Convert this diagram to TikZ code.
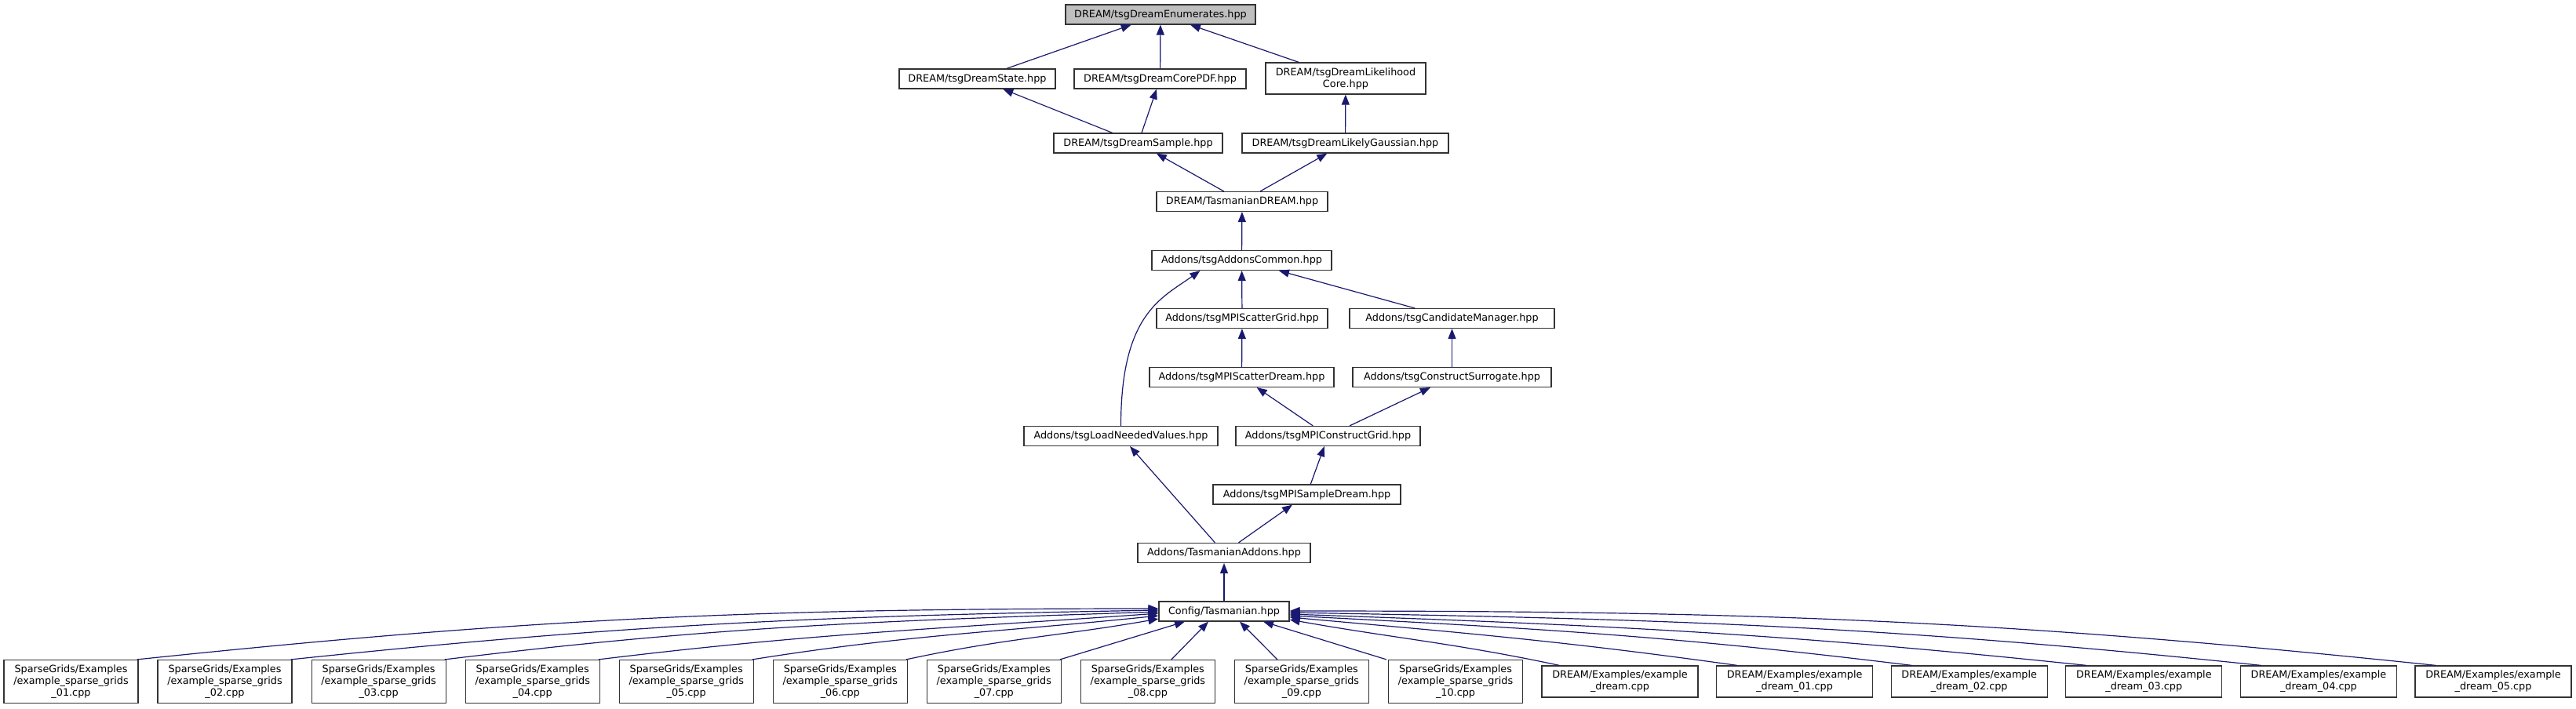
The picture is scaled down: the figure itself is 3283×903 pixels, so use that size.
\documentclass[tikz,border=0pt]{standalone}
\usepackage{fontspec}
\setmainfont{DejaVu Sans}
\usetikzlibrary{arrows.meta}
\definecolor{edgeblue}{RGB}{25,25,112}

\begin{document}
\begin{tikzpicture}[
    x=1pt, y=1pt,
    box/.style={draw=black!80, line width=1.2pt, fill=white, align=center, inner sep=0pt, minimum height=25pt, font=\fontsize{12.8}{15}\selectfont},
    sgbox/.style={box, minimum width=171pt, minimum height=55pt},
    drbox/.style={box, minimum width=199pt, minimum height=40pt},
    arrow/.style={-{Triangle[length=13pt,width=10pt]}, edgeblue, line width=1.2pt}
]
\useasboundingbox (0,0) rectangle (3283,-903);

\node[box, fill=black!25, minimum width=242pt] at (1479,-18.5) (enums) {DREAM/tsgDreamEnumerates.hpp};
\node[box, minimum width=199pt] at (1245.5,-100.5) (dstate) {DREAM/tsgDreamState.hpp};
\node[box, minimum width=219pt] at (1478.5,-100.5) (corepdf) {DREAM/tsgDreamCorePDF.hpp};
\node[box, minimum width=204pt, minimum height=40pt] at (1715,-100) (likecore) {DREAM/tsgDreamLikelihood\\Core.hpp};
\node[box, minimum width=215pt] at (1450.5,-182.5) (dsample) {DREAM/tsgDreamSample.hpp};
\node[box, minimum width=263pt] at (1714.5,-182.5) (likegauss) {DREAM/tsgDreamLikelyGaussian.hpp};
\node[box, minimum width=218pt] at (1583,-257) (tdream) {DREAM/TasmanianDREAM.hpp};
\node[box, minimum width=229pt] at (1582.5,-332) (common) {Addons/tsgAddonsCommon.hpp};
\node[box, minimum width=218pt] at (1583,-406) (scgrid) {Addons/tsgMPIScatterGrid.hpp};
\node[box, minimum width=261pt] at (1850.5,-406) (candidate) {Addons/tsgCandidateManager.hpp};
\node[box, minimum width=235pt] at (1582.5,-481) (scdream) {Addons/tsgMPIScatterDream.hpp};
\node[box, minimum width=253pt] at (1850.5,-481) (surrogate) {Addons/tsgConstructSurrogate.hpp};
\node[box, minimum width=247pt] at (1428.5,-556) (loadvals) {Addons/tsgLoadNeededValues.hpp};
\node[box, minimum width=235pt] at (1692.5,-556) (mpigrid) {Addons/tsgMPIConstructGrid.hpp};
\node[box, minimum width=239pt] at (1665.5,-630.5) (mpisample) {Addons/tsgMPISampleDream.hpp};
\node[box, minimum width=220pt] at (1560,-705) (taddons) {Addons/TasmanianAddons.hpp};
\node[box, minimum width=166pt] at (1560,-779.5) (config) {Config/Tasmanian.hpp};

\node[sgbox] at (90.5,-869) (sg1) {SparseGrids/Examples\\/example\_sparse\_grids\\\_01.cpp};
\node[sgbox] at (286.5,-869) (sg2) {SparseGrids/Examples\\/example\_sparse\_grids\\\_02.cpp};
\node[sgbox] at (482.6,-869) (sg3) {SparseGrids/Examples\\/example\_sparse\_grids\\\_03.cpp};
\node[sgbox] at (678.7,-869) (sg4) {SparseGrids/Examples\\/example\_sparse\_grids\\\_04.cpp};
\node[sgbox] at (874.7,-869) (sg5) {SparseGrids/Examples\\/example\_sparse\_grids\\\_05.cpp};
\node[sgbox] at (1070.8,-869) (sg6) {SparseGrids/Examples\\/example\_sparse\_grids\\\_06.cpp};
\node[sgbox] at (1266.8,-869) (sg7) {SparseGrids/Examples\\/example\_sparse\_grids\\\_07.cpp};
\node[sgbox] at (1462.9,-869) (sg8) {SparseGrids/Examples\\/example\_sparse\_grids\\\_08.cpp};
\node[sgbox] at (1658.9,-869) (sg9) {SparseGrids/Examples\\/example\_sparse\_grids\\\_09.cpp};
\node[sgbox] at (1855,-869) (sg10) {SparseGrids/Examples\\/example\_sparse\_grids\\\_10.cpp};
\node[drbox] at (2064.5,-869) (dr0) {DREAM/Examples/example\\\_dream.cpp};
\node[drbox] at (2287.1,-869) (dr1) {DREAM/Examples/example\\\_dream\_01.cpp};
\node[drbox] at (2509.7,-869) (dr2) {DREAM/Examples/example\\\_dream\_02.cpp};
\node[drbox] at (2732.3,-869) (dr3) {DREAM/Examples/example\\\_dream\_03.cpp};
\node[drbox] at (2954.9,-869) (dr4) {DREAM/Examples/example\\\_dream\_04.cpp};
\node[drbox] at (3177.5,-869) (dr5) {DREAM/Examples/example\\\_dream\_05.cpp};

\draw[arrow] (dstate) -- (enums);
\draw[arrow] (corepdf) -- (enums);
\draw[arrow] (likecore) -- (enums);
\draw[arrow] (dsample) -- (dstate);
\draw[arrow] (dsample) -- (corepdf);
\draw[arrow] (likegauss) -- (likecore);
\draw[arrow] (tdream) -- (dsample);
\draw[arrow] (tdream) -- (likegauss);
\draw[arrow] (common) -- (tdream);
\draw[arrow] (scgrid) -- (common);
\draw[arrow] (candidate) -- (common);
\draw[arrow] (loadvals.north) .. controls ([yshift=143pt]loadvals.north) and ([xshift=-102pt,yshift=-35pt]common.south) .. ([xshift=-53pt]common.south);
\draw[arrow] (scdream) -- (scgrid);
\draw[arrow] (surrogate) -- (candidate);
\draw[arrow] (mpigrid) -- (scdream);
\draw[arrow] (mpigrid) -- (surrogate);
\draw[arrow] (mpisample) -- (mpigrid);
\draw[arrow] (taddons) -- (loadvals);
\draw[arrow] (taddons) -- (mpisample);
\draw[arrow] (config) -- (taddons);

\draw[arrow] ([xshift=-2pt]sg1.north east) .. controls ([xshift=504pt,yshift=53pt]sg1.north east) and ([xshift=-509pt,yshift=3.5pt]config.west) .. ([yshift=3.5pt]config.west);
\draw[arrow] ([xshift=-2pt]sg2.north east) .. controls ([xshift=428pt,yshift=45pt]sg2.north east) and ([xshift=-432pt,yshift=-6pt]config.west) .. ([yshift=1.5pt]config.west);
\draw[arrow] ([xshift=-2pt]sg3.north east) .. controls ([xshift=351pt,yshift=43pt]sg3.north east) and ([xshift=-356pt,yshift=-12.5pt]config.west) .. ([yshift=-0.5pt]config.west);
\draw[arrow] ([xshift=-2pt]sg4.north east) .. controls ([xshift=276pt,yshift=34pt]sg4.north east) and ([xshift=-279pt,yshift=-22.5pt]config.west) .. ([yshift=-2.5pt]config.west);
\draw[arrow] ([xshift=-2pt]sg5.north east) .. controls ([xshift=199pt,yshift=32pt]sg5.north east) and ([xshift=-203pt,yshift=-26.5pt]config.west) .. ([yshift=-5.5pt]config.west);
\draw[arrow] ([xshift=-2pt]sg6.north east) .. controls ([xshift=123pt,yshift=27pt]sg6.north east) and ([xshift=-126pt,yshift=-31.5pt]config.west) .. ([yshift=-9.5pt]config.west);
\draw[arrow] ([xshift=-2pt]sg7.north east) -- ([xshift=-50pt]config.south);
\draw[arrow] ([xshift=30pt]sg8.north) -- ([xshift=-20pt]config.south);
\draw[arrow] ([xshift=-31pt]sg9.north) -- ([xshift=20pt]config.south);
\draw[arrow] ([xshift=-2pt]sg10.north west) -- ([xshift=50pt]config.south);
\draw[arrow] ([xshift=23pt]dr0.north west) .. controls ([xshift=-111pt,yshift=28.5pt]dr0.north west) and ([xshift=135pt,yshift=-34.5pt]config.east) .. ([yshift=-10.5pt]config.east);
\draw[arrow] ([xshift=27pt]dr1.north west) .. controls ([xshift=-195pt,yshift=31pt]dr1.north west) and ([xshift=223pt,yshift=-27.5pt]config.east) .. ([yshift=-7.5pt]config.east);
\draw[arrow] ([xshift=27pt]dr2.north west) .. controls ([xshift=-282pt,yshift=38pt]dr2.north west) and ([xshift=311pt,yshift=-21.5pt]config.east) .. ([yshift=-5.5pt]config.east);
\draw[arrow] ([xshift=27pt]dr3.north west) .. controls ([xshift=-368pt,yshift=41.5pt]dr3.north west) and ([xshift=397pt,yshift=-17.5pt]config.east) .. ([yshift=-3.5pt]config.east);
\draw[arrow] ([xshift=27pt]dr4.north west) .. controls ([xshift=-454pt,yshift=50.5pt]dr4.north west) and ([xshift=484pt,yshift=-10pt]config.east) .. ([yshift=-1.5pt]config.east);
\draw[arrow] ([xshift=27pt]dr5.north west) .. controls ([xshift=-541pt,yshift=59.5pt]dr5.north west) and ([xshift=571pt,yshift=0.5pt]config.east) .. ([yshift=0.5pt]config.east);
\end{tikzpicture}
\end{document}
